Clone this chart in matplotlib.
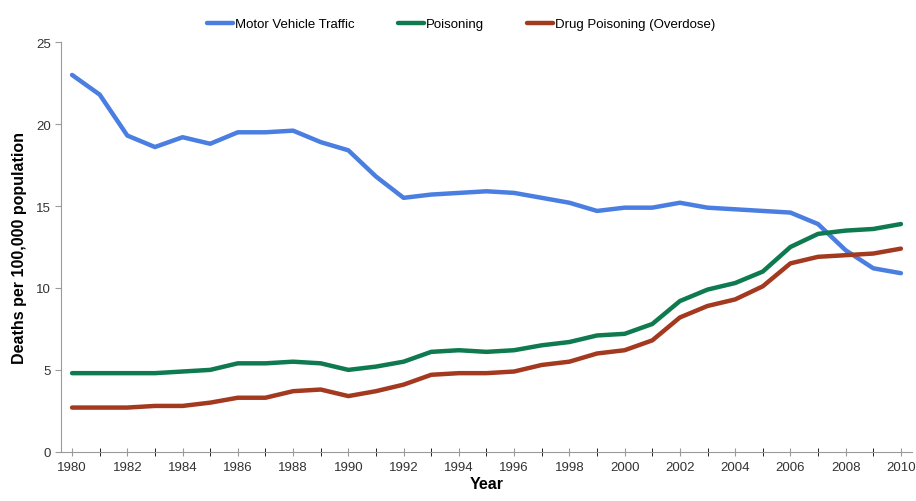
import matplotlib
matplotlib.use("Agg")
import matplotlib.pyplot as plt

years = list(range(1980, 2011))
motor_vehicle = [23.0, 21.8, 19.3, 18.6, 19.2, 18.8, 19.5, 19.5, 19.6, 18.9, 18.4,
                 16.8, 15.5, 15.7, 15.8, 15.9, 15.8, 15.5, 15.2, 14.7, 14.9,
                 14.9, 15.2, 14.9, 14.8, 14.7, 14.6, 13.9, 12.3, 11.2, 10.9]
poisoning = [4.8, 4.8, 4.8, 4.8, 4.9, 5.0, 5.4, 5.4, 5.5, 5.4, 5.0,
             5.2, 5.5, 6.1, 6.2, 6.1, 6.2, 6.5, 6.7, 7.1, 7.2,
             7.8, 9.2, 9.9, 10.3, 11.0, 12.5, 13.3, 13.5, 13.6, 13.9]
drug_overdose = [2.7, 2.7, 2.7, 2.8, 2.8, 3.0, 3.3, 3.3, 3.7, 3.8, 3.4,
                 3.7, 4.1, 4.7, 4.8, 4.8, 4.9, 5.3, 5.5, 6.0, 6.2,
                 6.8, 8.2, 8.9, 9.3, 10.1, 11.5, 11.9, 12.0, 12.1, 12.4]
series_names = ["Motor Vehicle Traffic", "Poisoning", "Drug Poisoning (Overdose)"]
colors = ["#4a7ee0", "#0f7a4f", "#a3391f"]

plt.rcParams["font.family"] = ["Liberation Sans", "DejaVu Sans"]

fig = plt.figure(figsize=(9.16, 5.02), dpi=100)
ax = fig.add_axes([0.0666, 0.098, 0.929, 0.816])

for vals, name, c in zip([motor_vehicle, poisoning, drug_overdose], series_names, colors):
    ax.plot(years, vals, color=c, lw=3.2, label=name, solid_capstyle="round")

ax.set_xlim(1979.6, 2010.4)
ax.set_ylim(0, 25)
ax.set_xticks(range(1980, 2011, 2))
ax.set_xticks(range(1980, 2011), minor=True)
ax.set_yticks(range(0, 26, 5))

for side in ["top", "right"]:
    ax.spines[side].set_visible(False)
for side in ["left", "bottom"]:
    ax.spines[side].set_color("#9a9a9a")
ax.tick_params(axis="both", colors="#9a9a9a", labelcolor="#333333", labelsize=9.5)
ax.tick_params(axis="x", which="both", direction="inout", length=6)
ax.tick_params(axis="y", direction="out", length=4)

ax.set_xlabel("Year", fontsize=11.5, fontweight="bold", labelpad=2)
ax.set_ylabel("Deaths per 100,000 population", fontsize=11.5, fontweight="bold", labelpad=6)

ax.legend(loc="lower center", bbox_to_anchor=(0.47, 1.0), ncol=3, frameon=False,
          fontsize=9.5, handlelength=2.0, handletextpad=0.1, columnspacing=3.3)

fig.savefig("out.png", dpi=100)
